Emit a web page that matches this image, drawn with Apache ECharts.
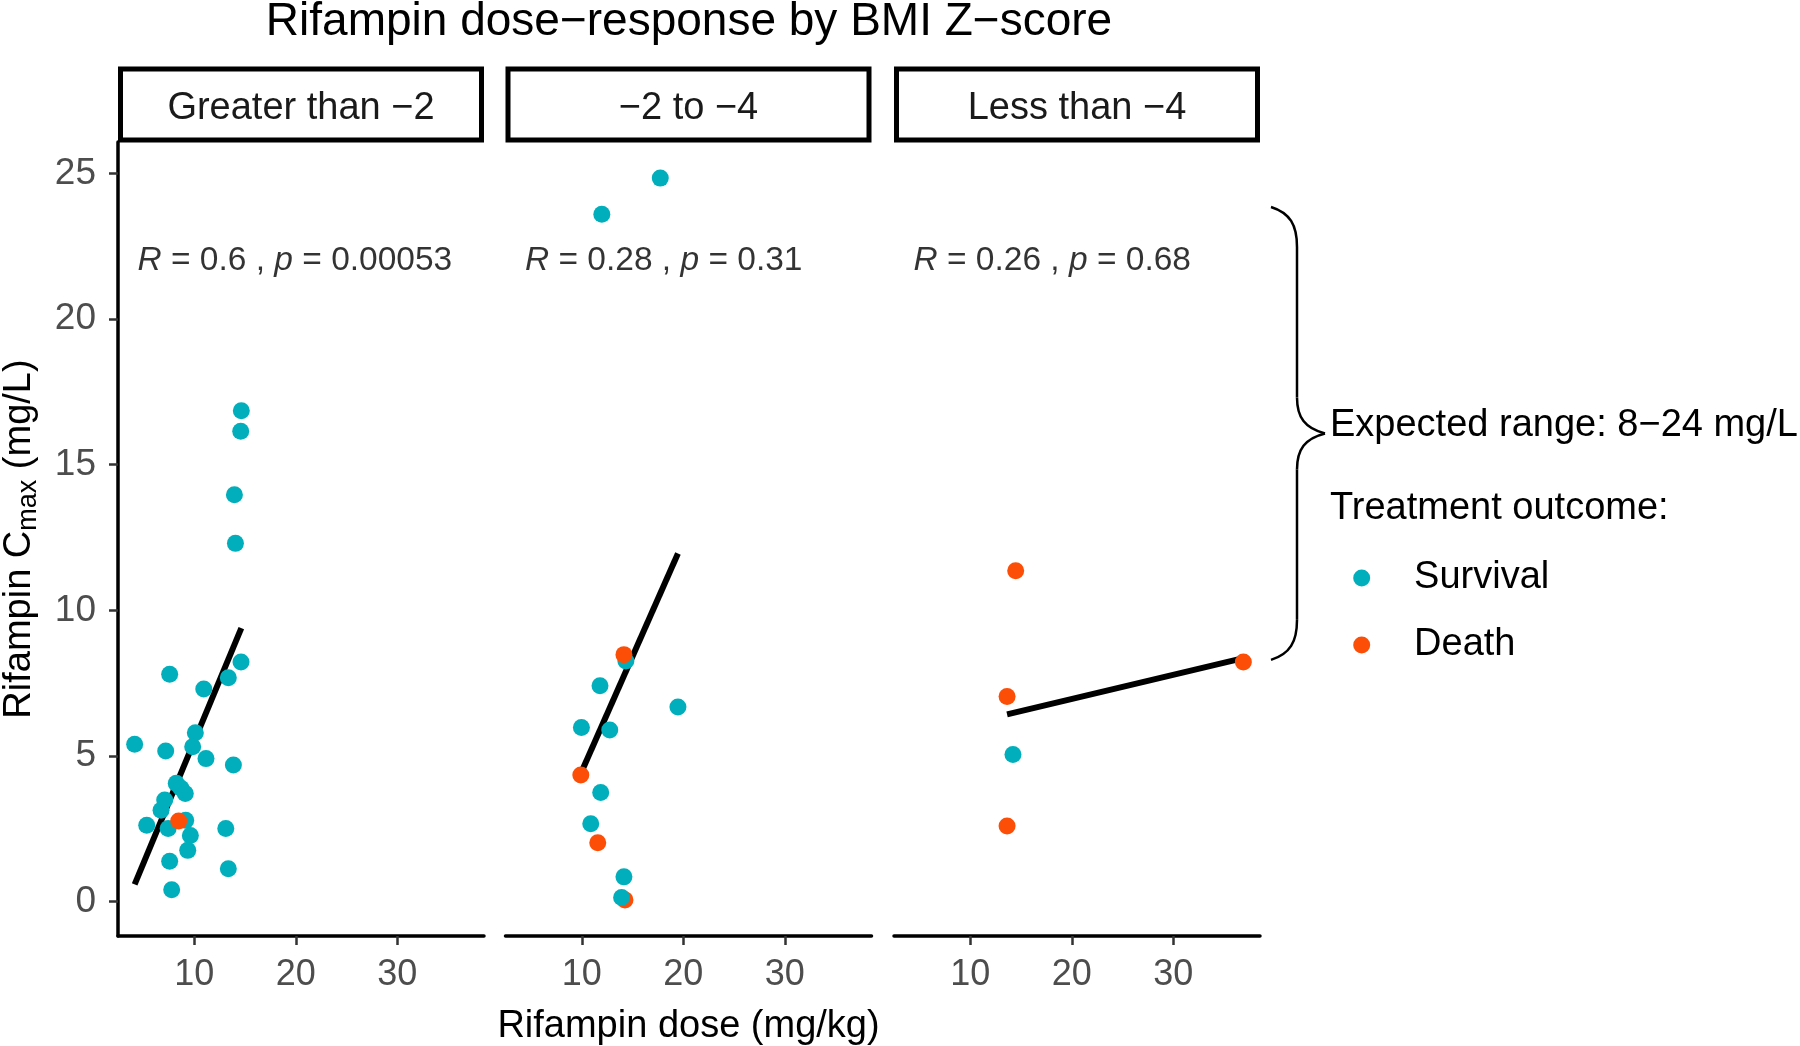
<!DOCTYPE html>
<html><head><meta charset="utf-8">
<script src="https://cdn.jsdelivr.net/npm/echarts@6/dist/echarts.min.js"></script>
<style>html,body{margin:0;padding:0;background:#fff}#chart{width:1800px;height:1046px}</style>
</head><body><div id="chart"></div>
<script>
// ---------- data ----------
const panelNames = ['Greater than \u22122', '\u22122 to \u22124', 'Less than \u22124'];

// Panel 1: BMI Z-score greater than -2
const dose1 = [14.63, 14.57, 13.95, 14.05, 14.6, 7.57, 13.35, 10.93, 10.1, 9.84, 4.12, 7.18, 11.15, 13.85, 8.22, 8.69, 9.11, 7.08, 6.72, 5.31, 7.42, 9.15, 9.61, 13.1, 9.35, 7.57, 13.35, 7.77, 8.46];
const cmax1 = [16.85, 16.15, 13.97, 12.3, 8.23, 7.81, 7.69, 7.30, 5.80, 5.32, 5.40, 5.17, 4.91, 4.69, 4.06, 3.89, 3.71, 3.49, 3.14, 2.62, 2.51, 2.79, 2.27, 2.51, 1.76, 1.39, 1.13, 0.41, 2.77];
const outcome1 = ['Survival','Survival','Survival','Survival','Survival','Survival','Survival','Survival','Survival','Survival','Survival','Survival','Survival','Survival','Survival','Survival','Survival','Survival','Survival','Survival','Survival','Survival','Survival','Survival','Survival','Survival','Survival','Survival','Death'];

// Panel 2: BMI Z-score -2 to -4
const dose2 = [17.73, 11.97, 14.34, 14.15, 11.79, 19.47, 9.96, 12.75, 9.9, 11.86, 10.88, 11.57, 14.15, 14.25, 13.92];
const cmax2 = [24.84, 23.6, 8.26, 8.48, 7.41, 6.68, 5.98, 5.89, 4.35, 3.75, 2.67, 2.02, 0.85, 0.06, 0.14];
const outcome2 = ['Survival','Survival','Survival','Death','Survival','Survival','Survival','Survival','Death','Survival','Survival','Death','Survival','Death','Survival'];

// Panel 3: BMI Z-score less than -4
const dose3 = [14.47, 13.62, 14.2, 13.62, 36.9];
const cmax3 = [11.36, 7.04, 5.05, 2.6, 8.23];
const outcome3 = ['Death','Death','Survival','Death','Death'];

// Linear fit end points per panel (dose, Cmax)
const fitDose1 = [4.12, 14.63], fitCmax1 = [0.59, 9.39];
const fitDose2 = [9.9, 19.47],  fitCmax2 = [4.4, 11.95];
const fitDose3 = [13.62, 36.9], fitCmax3 = [6.43, 8.36];

// Correlation annotations
const corR = ['0.6', '0.28', '0.26'];
const corP = ['0.00053', '0.31', '0.68'];
const corLabelDose = 4.35, corLabelCmax = 22.0;

// Axis ticks / ranges
const xTicks = [10, 20, 30];
const yTicks = [0, 5, 10, 15, 20, 25];
const xRange = [2.48, 38.54];
const yRange = [-1.18, 26.08];

// Expected range brace (mg/L)
const braceRange = [8.3, 23.85];
const outcomes = ['Survival', 'Death'];
// ----------------------------------------------------

const COL = {Survival: '#00AFBB', Death: '#FC4E07'};
const FONT = '"Liberation Sans", Arial, Helvetica, sans-serif';
const doses = [dose1, dose2, dose3], cmaxs = [cmax1, cmax2, cmax3], outs = [outcome1, outcome2, outcome3];
const fitD = [fitDose1, fitDose2, fitDose3], fitC = [fitCmax1, fitCmax2, fitCmax3];

const gridLefts = [118, 505.5, 894], gridW = 366, gridTop = 142, gridH = 794;

const chart = echarts.init(document.getElementById('chart'), null, {renderer: 'canvas'});

const grids = [], xAxes = [], yAxes = [], series = [];
for (let p = 0; p < 3; p++) {
  grids.push({left: gridLefts[p], top: gridTop, width: gridW, height: gridH, containLabel: false, outerBoundsMode: 'none'});
  xAxes.push({
    gridIndex: p, type: 'value', min: xRange[0], max: xRange[1],
    axisLine: {show: true, onZero: false, lineStyle: {color: '#000', width: 3.5}},
    axisTick: {show: true, length: 9, customValues: xTicks, lineStyle: {color: '#333', width: 2.5}},
    axisLabel: {show: true, customValues: xTicks, fontSize: 36, color: '#4d4d4d', margin: 21, fontFamily: FONT},
    splitLine: {show: false},
    name: p === 1 ? 'Rifampin dose (mg/kg)' : '',
    nameLocation: 'middle', nameGap: 72,
    nameTextStyle: {fontSize: 38, color: '#000', fontFamily: FONT}
  });
  yAxes.push({
    gridIndex: p, type: 'value', min: yRange[0], max: yRange[1],
    axisLine: {show: p === 0, onZero: false, lineStyle: {color: '#000', width: 3.5}},
    axisTick: {show: p === 0, length: 9, customValues: yTicks, lineStyle: {color: '#333', width: 2.5}},
    axisLabel: {show: p === 0, customValues: yTicks, fontSize: 37, color: '#4d4d4d', margin: 22, fontFamily: FONT},
    splitLine: {show: false},
    name: p === 0 ? 'Rifampin C{sub|max} (mg/L)' : '',
    nameLocation: 'middle', nameGap: 76, nameRotate: 90,
    nameTextStyle: {fontSize: 38, color: '#000', fontFamily: FONT, lineHeight: 44,
      rich: {sub: {fontSize: 27, lineHeight: 27, verticalAlign: 'bottom', color: '#000', fontFamily: FONT}}}
  });
  series.push({
    type: 'line', xAxisIndex: p, yAxisIndex: p, silent: true, z: 2,
    symbol: 'none', lineStyle: {color: '#000', width: 6},
    data: fitD[p].map((d, i) => [d, fitC[p][i]])
  });
  series.push({
    type: 'scatter', xAxisIndex: p, yAxisIndex: p, z: 3, symbolSize: 17,
    itemStyle: {color: (prm) => COL[prm.value[2]], opacity: 1},
    data: doses[p].map((d, i) => [d, cmaxs[p][i], outs[p][i]])
  });
  series.push({
    type: 'scatter', xAxisIndex: p, yAxisIndex: p, z: 4, symbolSize: 1, silent: true,
    itemStyle: {color: 'rgba(0,0,0,0)'},
    label: {show: true, position: 'right', distance: 0, fontSize: 33.5, color: '#000', fontFamily: FONT,
      formatter: '{i|R} = ' + corR[p] + ' , {i|p} = ' + corP[p],
      rich: {i: {fontStyle: 'italic', fontSize: 33.5, color: '#000', fontFamily: FONT}}},
    data: [[corLabelDose, corLabelCmax]]
  });
}
// legend-only series
outcomes.forEach(o => series.push({type: 'scatter', name: o, data: [], itemStyle: {color: COL[o], opacity: 1}}));

const graphics = [];
graphics.push({type: 'text', x: 689, y: 22.5, z: 10,
  style: {text: 'Rifampin dose\u2212response by BMI Z\u2212score', fontSize: 46, fill: '#000',
    fontFamily: FONT, align: 'center', verticalAlign: 'middle'}});
for (let p = 0; p < 3; p++) {
  graphics.push({type: 'rect', z: 10,
    shape: {x: gridLefts[p] + 2.5, y: 69, width: gridW - 5, height: 71},
    style: {fill: '#fff', stroke: '#000', lineWidth: 5}});
  graphics.push({type: 'text', z: 11, x: gridLefts[p] + gridW / 2, y: 108.5,
    style: {text: panelNames[p], fontSize: 38, fill: '#1a1a1a', fontFamily: FONT, align: 'center', verticalAlign: 'middle'}});
}
graphics.push({type: 'text', z: 10, x: 1330, y: 426,
  style: {text: 'Expected range: 8\u221224 mg/L', fontSize: 38, fill: '#000', fontFamily: FONT, align: 'left', verticalAlign: 'middle'}});
graphics.push({type: 'text', z: 10, x: 1330, y: 508.5,
  style: {text: 'Treatment outcome:', fontSize: 38, fill: '#000', fontFamily: FONT, align: 'left', verticalAlign: 'middle'}});

chart.setOption({
  animation: false,
  backgroundColor: '#fff',
  textStyle: {fontFamily: FONT},
  grid: grids, xAxis: xAxes, yAxis: yAxes, series: series,
  legend: {
    data: outcomes, orient: 'vertical', left: 1353.2, top: 556, padding: 0,
    icon: 'circle', itemWidth: 94.8, itemHeight: 17, itemGap: 23, selectedMode: false,
    textStyle: {fontSize: 38, color: '#000', lineHeight: 44, fontFamily: FONT}
  },
  graphic: graphics
});

// Brace spanning the expected range, placed with the y scale
const yT = chart.convertToPixel({yAxisIndex: 0}, braceRange[1]);
const yB = chart.convertToPixel({yAxisIndex: 0}, braceRange[0]);
const x0 = gridLefts[2] + gridW + 11, xs = x0 + 26, xt = x0 + 54;
const ym = (yT + yB) / 2;
const bs = {stroke: '#000', lineWidth: 2.5, fill: null};
const braceParts = [
  {type: 'bezierCurve', shape: {x1: x0, y1: yT, cpx1: x0 + 19, cpy1: yT + 6, cpx2: xs, cpy2: yT + 18, x2: xs, y2: yT + 40}},
  {type: 'line', shape: {x1: xs, y1: yT + 40, x2: xs, y2: ym - 36}},
  {type: 'bezierCurve', shape: {x1: xs, y1: ym - 36, cpx1: xs, cpy1: ym - 16, cpx2: xs + 8, cpy2: ym - 5, x2: xt, y2: ym}},
  {type: 'bezierCurve', shape: {x1: xt, y1: ym, cpx1: xs + 8, cpy1: ym + 5, cpx2: xs, cpy2: ym + 16, x2: xs, y2: ym + 36}},
  {type: 'line', shape: {x1: xs, y1: ym + 36, x2: xs, y2: yB - 40}},
  {type: 'bezierCurve', shape: {x1: xs, y1: yB - 40, cpx1: xs, cpy1: yB - 18, cpx2: x0 + 19, cpy2: yB - 6, x2: x0, y2: yB}}
];
braceParts.forEach(b => { b.z = 10; b.style = bs; graphics.push(b); });
chart.setOption({graphic: graphics});
</script></body></html>
